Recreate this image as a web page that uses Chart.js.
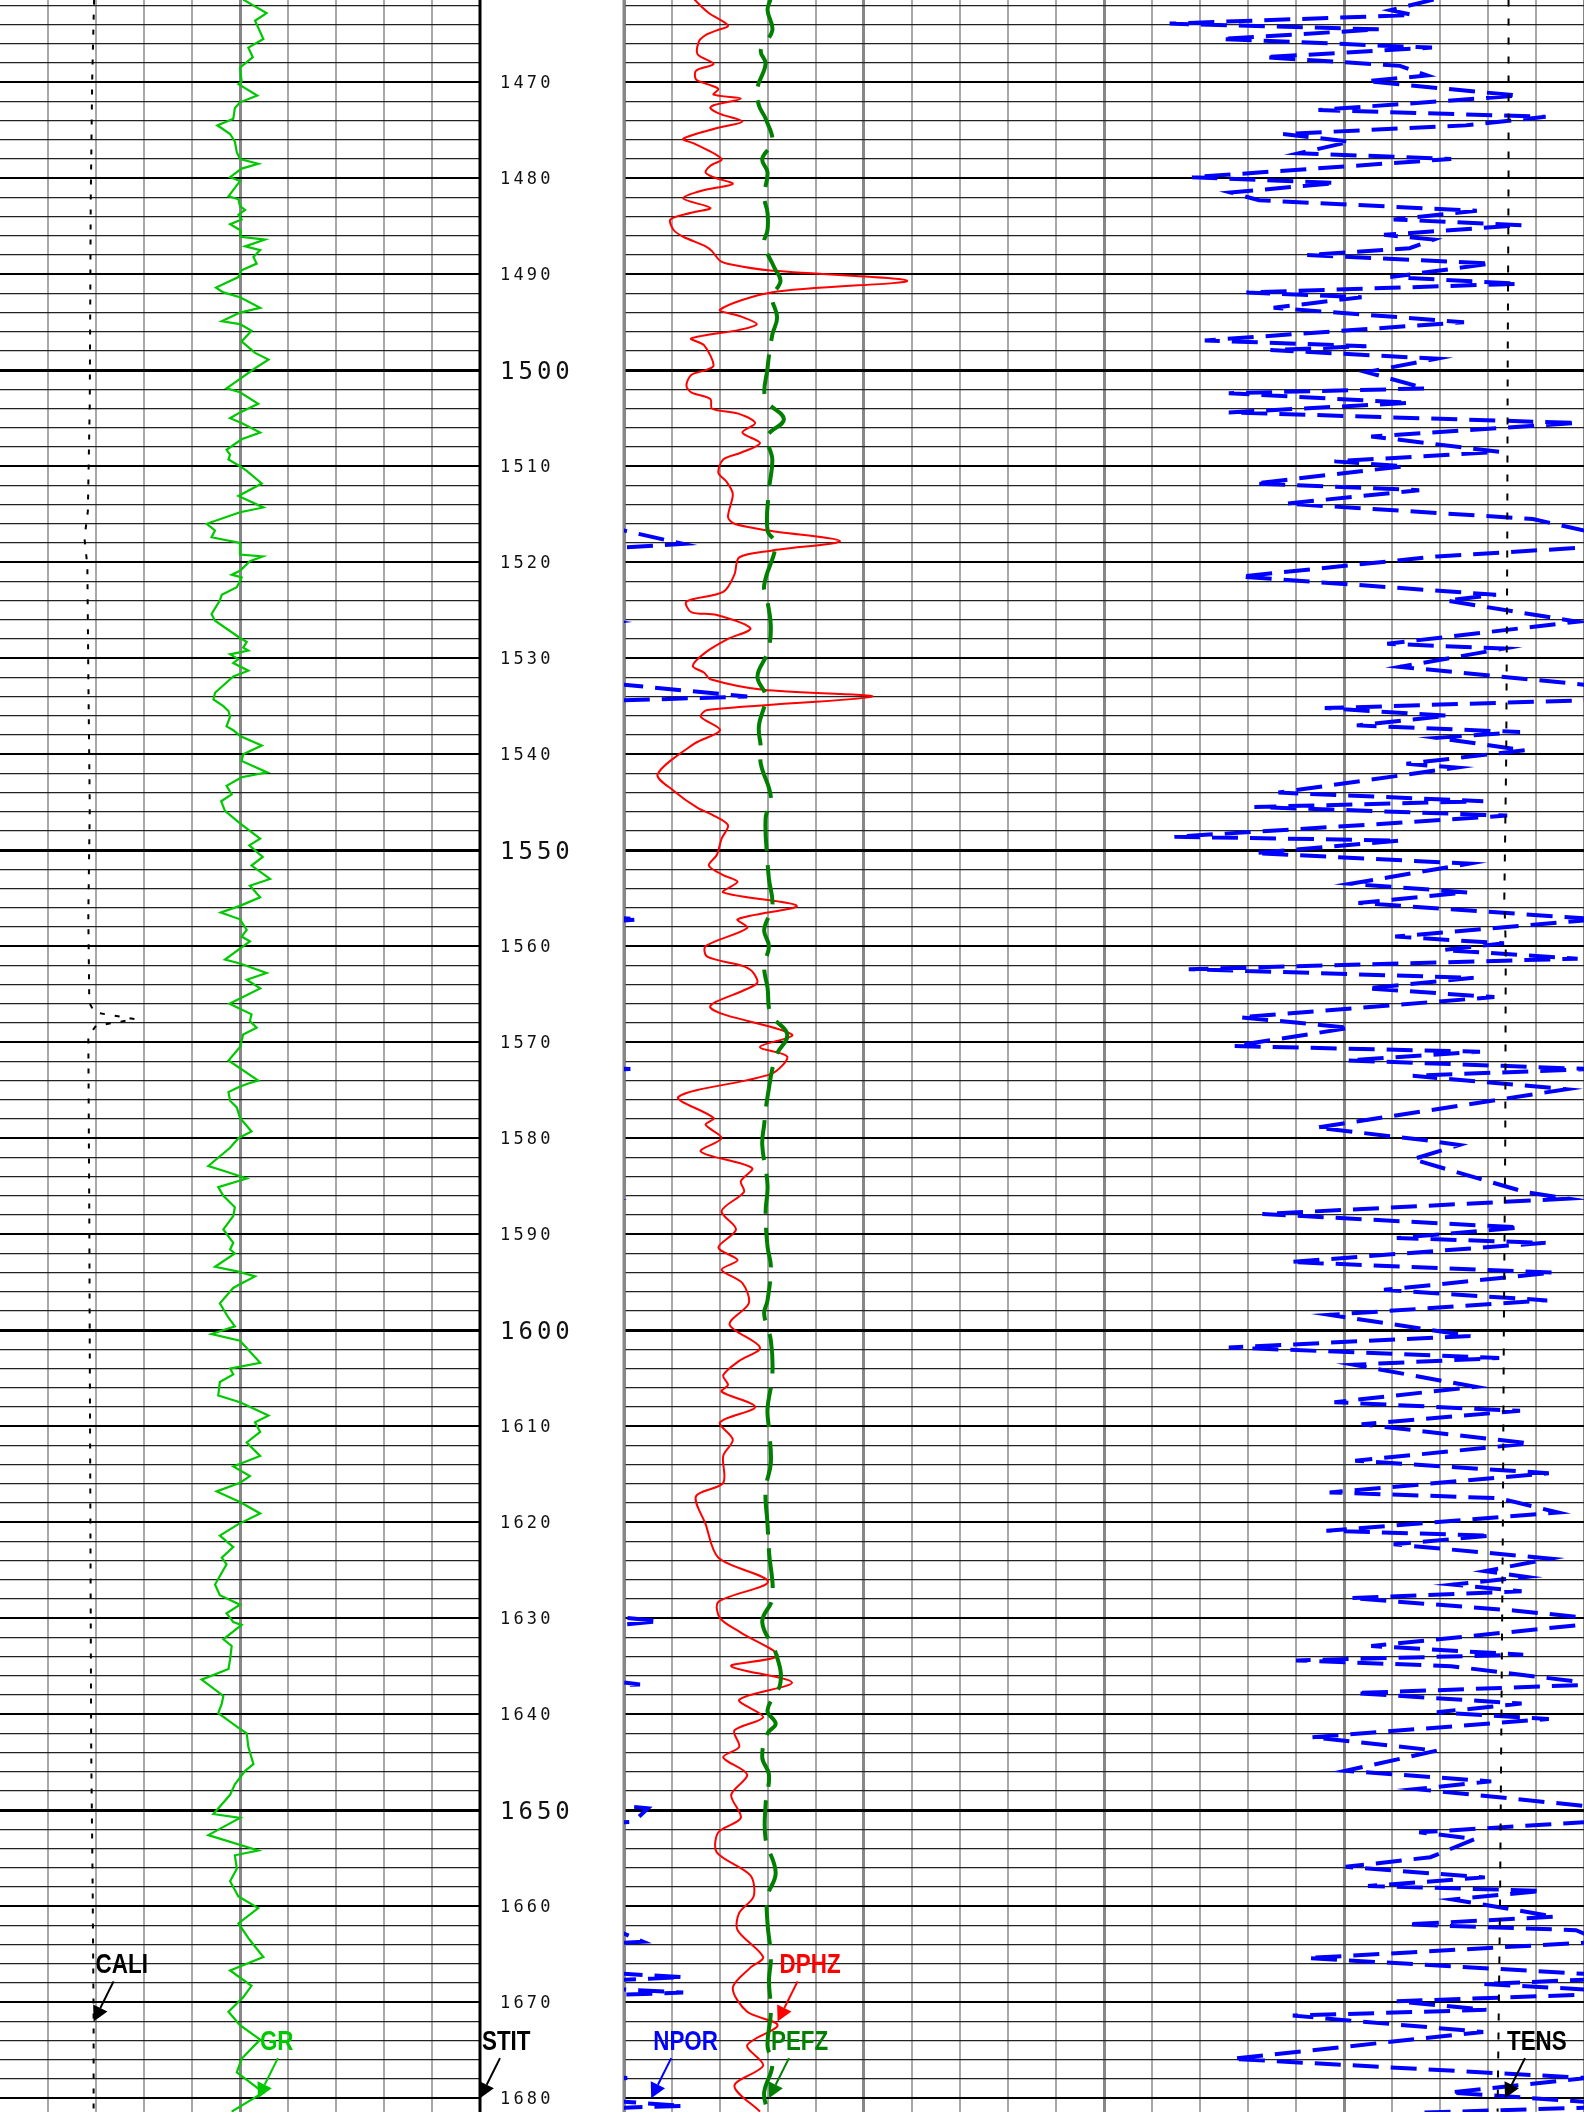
<!DOCTYPE html>
<html>
<head>
<meta charset="utf-8">
<title>Well log 1461 - 1681 m</title>
<script src="https://cdn.jsdelivr.net/npm/chart.js@4.4.1/dist/chart.umd.min.js"></script>
<style>
  html, body { margin: 0; padding: 0; background: #fff; }
  #wrap { width: 1584px; height: 2112px; }
</style>
</head>
<body>
<div id="wrap"><canvas id="log" width="1584" height="2112"></canvas></div>
<script>
// depth window shown (m)
const depthTop = 1461.44;
const depthBottom = 1681.44;
const depthLabels = [1470, 1480, 1490, 1500, 1510, 1520, 1530, 1540, 1550, 1560, 1570,
  1580, 1590, 1600, 1610, 1620, 1630, 1640, 1650, 1660, 1670, 1680];

// GR (API), left track 0 - 150
const grDepth = [
  1461.4,1462.8,1463.6,1465.5,1466.4,1467.4,1468.5,1469.9,1470.2,1471.4,
  1472.1,1472.7,1473.8,1474.5,1474.8,1475.4,1476.2,1477.3,1478.0,1478.5,
  1479.0,1479.9,1480.3,1481.9,1482.2,1482.9,1483.3,1483.8,1484.3,1484.8,
  1485.4,1486.1,1486.4,1487.1,1487.5,1488.2,1488.9,1489.6,1490.3,1491.4,
  1491.9,1492.4,1493.5,1494.0,1494.9,1495.2,1495.9,1497.0,1498.2,1498.9,
  1499.8,1500.9,1501.9,1502.3,1503.5,1504.4,1505.0,1505.5,1506.5,1507.2,
  1508.3,1508.8,1509.3,1510.0,1510.5,1511.8,1513.1,1514.3,1514.8,1516.0,
  1516.7,1517.4,1518.0,1519.2,1519.4,1519.9,1520.9,1521.3,1521.6,1522.6,
  1523.4,1524.0,1525.4,1526.1,1527.9,1528.3,1528.9,1529.2,1529.6,1530.1,
  1530.5,1531.3,1531.9,1533.6,1534.3,1535.0,1535.5,1536.1,1537.1,1537.5,
  1538.1,1539.1,1540.0,1540.7,1541.9,1542.4,1543.3,1544.2,1544.9,1545.9,
  1547.2,1548.8,1549.5,1550.7,1551.6,1553.0,1553.7,1554.9,1555.8,1556.5,
  1557.2,1558.3,1559.0,1559.5,1561.4,1561.8,1562.8,1563.5,1564.4,1566.0,
  1567.1,1567.8,1568.5,1569.2,1570.5,1571.9,1574.0,1574.3,1574.7,1575.2,
  1576.1,1576.8,1577.9,1579.3,1580.0,1581.0,1582.9,1583.5,1584.2,1585.1,
  1586.0,1586.7,1587.2,1588.1,1589.5,1590.9,1591.6,1592.0,1593.4,1593.9,
  1594.4,1595.3,1595.6,1597.2,1598.7,1599.6,1600.4,1601.1,1603.4,1604.0,
  1604.6,1605.4,1606.8,1607.5,1608.9,1609.6,1610.6,1611.7,1613.1,1614.2,
  1615.2,1615.9,1616.8,1617.9,1619.1,1620.2,1621.4,1622.6,1623.7,1624.4,
  1626.5,1627.6,1628.6,1629.5,1630.4,1630.7,1632.2,1632.9,1634.3,1635.3,
  1636.4,1638.1,1638.9,1639.9,1641.3,1642.0,1643.4,1645.2,1645.9,1647.3,
  1648.4,1650.4,1650.8,1652.6,1654.2,1654.7,1656.1,1657.4,1659.0,1660.2,
  1661.8,1663.5,1665.3,1666.7,1668.3,1669.5,1671.0,1672.4,1673.9,1675.9,
  1677.3,1679.4,1681.4
];
const grApi = [
  76.0,83.3,79.7,82.3,77.6,79.0,75.0,75.5,74.5,80.4,
  75.0,73.4,72.9,67.9,69.3,71.9,73.4,74.0,75.0,80.7,
  75.5,71.9,75.0,71.4,74.5,75.0,76.6,74.5,75.5,71.9,
  75.0,75.2,82.8,76.6,81.3,79.2,80.2,75.5,74.5,67.5,
  69.8,75.0,81.3,75.0,69.3,75.0,78.6,75.5,79.7,83.9,
  79.7,75.0,70.8,75.0,80.7,75.0,71.9,75.5,81.3,75.5,
  70.8,71.9,71.4,75.0,77.1,81.8,74.5,82.3,75.0,64.6,
  67.2,66.1,75.0,75.0,82.1,78.1,75.0,72.4,75.5,74.0,
  69.3,68.7,66.1,67.2,75.0,77.1,76.0,77.6,71.9,74.5,
  72.9,77.6,72.9,67.2,66.7,69.8,71.4,71.9,70.8,72.9,
  75.0,81.8,76.0,75.5,83.5,75.5,70.8,72.4,69.1,70.3,
  75.0,81.3,77.9,82.1,78.6,84.4,78.1,81.3,75.0,69.0,
  75.0,77.1,75.5,78.1,70.3,75.0,83.3,77.1,81.3,71.7,
  78.6,78.1,80.2,76.0,75.0,71.4,80.7,77.6,74.5,71.4,
  71.9,74.0,75.0,78.6,74.5,71.9,65.1,70.8,77.1,68.2,
  69.8,71.9,73.4,72.9,69.8,72.9,71.9,73.4,67.2,74.5,
  79.7,74.5,72.9,68.7,71.4,73.4,66.1,75.0,81.3,71.9,
  72.9,68.7,68.2,75.0,83.9,79.7,81.3,77.1,81.3,72.9,
  78.1,75.0,67.7,75.0,81.3,74.5,68.7,72.9,69.3,70.8,
  67.2,68.7,75.0,70.8,72.9,75.5,69.8,72.4,71.9,71.4,
  63.0,69.8,69.3,68.2,74.0,77.1,77.6,79.2,76.6,73.4,
  71.9,66.7,75.0,65.1,80.7,73.4,74.0,71.9,74.5,80.7,
  74.5,78.0,82.3,71.9,78.6,76.0,71.4,75.0,81.3,75.5,
  74.0,82.3,72.4
];

// CALI (in), left track 6 - 16
const caliDepth = [1461.4, 1469.9, 1482.5, 1503.5, 1514.7, 1517.5, 1520.4, 1531.6, 1545.6, 1556.8,
  1565.9, 1566.9, 1567.6, 1568.3, 1569.4, 1587.7, 1615.7, 1643.8, 1657.8, 1671.8, 1681.4];
const caliInch = [7.96, 7.92, 7.89, 7.87, 7.83, 7.76, 7.82, 7.84, 7.87, 7.84,
  7.86, 7.97, 8.81, 8.00, 7.84, 7.86, 7.88, 7.90, 7.93, 7.95, 7.95];

// DPHZ (v/v), right track 0.45 - -0.15
const dphzDepth = [
  1461.4,1462.8,1464.1,1464.6,1465.0,1465.7,1467.1,1468.1,1468.8,1469.7,
  1470.2,1470.7,1471.3,1471.7,1472.4,1472.7,1473.3,1474.1,1474.7,1475.9,
  1476.4,1478.0,1478.7,1479.4,1479.9,1480.6,1481.2,1482.1,1483.1,1483.6,
  1484.3,1485.4,1486.1,1487.1,1487.6,1488.6,1489.0,1489.6,1490.7,1491.9,
  1493.7,1494.4,1495.2,1495.8,1496.7,1497.4,1499.5,1500.0,1500.5,1501.6,
  1502.3,1503.0,1504.0,1504.5,1505.5,1506.5,1507.6,1508.6,1509.3,1510.7,
  1511.6,1512.9,1515.3,1516.0,1516.7,1517.8,1518.8,1519.5,1521.3,1523.1,
  1524.1,1525.2,1525.5,1526.9,1528.0,1529.4,1530.8,1531.5,1532.2,1533.3,
  1534.0,1535.4,1536.1,1537.5,1538.9,1542.1,1543.8,1545.6,1546.3,1547.4,
  1548.8,1550.5,1551.6,1552.6,1553.3,1554.4,1555.8,1557.2,1558.1,1560.0,
  1561.1,1562.1,1562.8,1563.9,1566.4,1569.2,1570.5,1571.5,1573.3,1575.7,
  1577.9,1578.6,1580.0,1581.4,1583.1,1584.5,1585.6,1587.6,1589.5,1591.4,
  1592.7,1593.7,1595.1,1597.2,1599.4,1601.8,1603.2,1604.7,1605.7,1606.4,
  1608.0,1609.6,1611.4,1613.1,1615.9,1617.3,1620.2,1623.7,1626.2,1628.3,
  1630.0,1631.5,1633.9,1635.0,1636.7,1638.5,1640.3,1641.7,1643.4,1644.5,
  1646.3,1648.4,1650.8,1652.3,1654.4,1656.8,1659.0,1660.7,1662.5,1665.3,
  1666.4,1668.5,1671.0,1672.4,1674.5,1676.6,1678.7,1681.4
];
const dphzVal = [
  0.406,0.397,0.385,0.392,0.398,0.403,0.404,0.394,0.405,0.405,
  0.398,0.391,0.394,0.377,0.394,0.396,0.390,0.376,0.390,0.413,
  0.406,0.389,0.396,0.399,0.394,0.382,0.399,0.413,0.396,0.408,
  0.421,0.419,0.413,0.399,0.395,0.390,0.383,0.360,0.273,0.358,
  0.390,0.377,0.367,0.378,0.408,0.400,0.394,0.399,0.408,0.411,
  0.408,0.396,0.395,0.379,0.368,0.376,0.365,0.377,0.388,0.391,
  0.386,0.382,0.385,0.381,0.360,0.315,0.358,0.378,0.381,0.388,
  0.411,0.408,0.392,0.371,0.385,0.399,0.407,0.400,0.396,0.363,
  0.295,0.398,0.402,0.390,0.406,0.429,0.419,0.404,0.395,0.385,
  0.389,0.392,0.397,0.388,0.379,0.388,0.342,0.379,0.373,0.399,
  0.398,0.375,0.369,0.367,0.396,0.345,0.365,0.348,0.358,0.416,
  0.394,0.399,0.389,0.402,0.370,0.377,0.375,0.389,0.380,0.391,
  0.379,0.389,0.376,0.372,0.384,0.365,0.378,0.388,0.385,0.389,
  0.368,0.390,0.382,0.388,0.388,0.405,0.399,0.391,0.360,0.391,
  0.390,0.377,0.354,0.383,0.345,0.378,0.363,0.381,0.378,0.388,
  0.373,0.383,0.377,0.391,0.392,0.371,0.369,0.378,0.379,0.363,
  0.371,0.382,0.373,0.354,0.373,0.363,0.381,0.365
];

// NPOR (v/v), right track 0.45 - -0.15, wraps past the right edge
const nporDepth = [
  1461.4,1462.5,1463.0,1463.9,1464.5,1465.5,1466.4,1467.4,1468.3,1469.3,
  1469.9,1471.4,1472.9,1473.6,1474.5,1475.4,1476.2,1477.4,1478.0,1479.9,
  1480.5,1481.5,1482.3,1483.4,1484.3,1484.9,1485.9,1486.4,1487.3,1488.0,
  1488.9,1490.3,1491.0,1491.9,1492.4,1493.5,1495.0,1496.9,1497.5,1497.9,
  1498.8,1500.2,1501.9,1502.4,1503.4,1504.4,1505.5,1506.9,1508.5,1509.5,
  1510.0,1511.8,1512.5,1513.9,1515.5,1518.1,1519.4,1521.5,1523.4,1524.0,
  1526.2,1528.5,1529.0,1530.9,1534.0,1535.2,1536.0,1537.0,1537.7,1538.3,
  1539.6,1541.0,1541.4,1544.0,1544.9,1545.5,1546.4,1547.3,1548.6,1549.0,
  1550.3,1551.4,1553.5,1554.4,1555.5,1557.2,1559.0,1559.7,1560.4,1561.3,
  1562.4,1563.3,1564.4,1565.3,1567.4,1568.5,1570.4,1571.0,1571.9,1572.8,
  1573.5,1574.9,1578.9,1580.2,1580.7,1582.2,1585.6,1586.3,1587.9,1589.3,
  1590.4,1590.9,1592.9,1594.0,1595.8,1596.9,1598.4,1600.6,1601.8,1602.9,
  1603.6,1605.9,1607.5,1608.4,1609.8,1611.8,1613.6,1614.9,1616.9,1617.5,
  1619.0,1620.9,1621.4,1622.3,1623.8,1625.1,1625.7,1626.5,1627.2,1627.9,
  1629.2,1630.3,1632.9,1633.8,1634.4,1635.0,1636.9,1637.8,1638.9,1639.8,
  1640.5,1642.4,1643.8,1645.9,1647.0,1647.8,1649.8,1651.2,1652.3,1653.0,
  1654.9,1655.9,1657.0,1657.9,1658.4,1659.3,1661.1,1661.9,1662.5,1663.7,
  1665.4,1667.4,1668.1,1669.0,1669.9,1670.8,1671.4,1673.1,1675.9,1677.9,
  1679.4,1680.8,1681.5
];
const nporVal = [
  -0.056,-0.029,-0.043,0.109,-0.022,0.077,-0.055,0.050,-0.035,-0.052,
  -0.014,-0.109,0.016,-0.126,-0.076,0.038,-0.004,0.028,-0.067,0.095,
  0.005,0.071,0.053,-0.083,-0.031,-0.111,-0.025,-0.056,-0.041,0.023,
  -0.092,-0.029,-0.109,0.061,-0.011,0.044,-0.075,0.087,-0.014,0.046,
  -0.058,-0.014,-0.051,0.072,-0.041,0.072,-0.146,-0.017,-0.097,0.006,
  -0.038,0.056,-0.047,0.036,-0.118,-0.187,-0.058,0.065,-0.095,-0.064,
  -0.146,-0.027,-0.100,-0.035,-0.227,0.012,-0.065,-0.008,-0.110,-0.058,
  -0.113,-0.039,-0.070,0.041,-0.087,0.056,-0.102,-0.020,0.106,-0.035,
  0.056,-0.078,-0.004,-0.077,-0.009,-0.159,-0.032,-0.100,-0.062,-0.146,
  0.097,-0.081,-0.014,-0.094,0.065,-0.004,0.069,-0.085,-0.002,-0.154,
  -0.043,-0.139,0.017,-0.050,-0.072,-0.043,-0.113,-0.140,0.051,-0.110,
  -0.033,-0.126,0.034,-0.131,-0.025,-0.127,0.009,-0.079,0.072,-0.097,
  -0.006,-0.082,0.006,-0.110,-0.011,-0.116,-0.007,-0.128,0.009,-0.097,
  -0.134,0.011,-0.092,-0.031,-0.129,-0.088,-0.114,-0.068,-0.111,-0.004,
  -0.106,-0.172,-0.017,-0.112,0.030,-0.067,-0.160,-0.007,-0.111,-0.058,
  -0.128,0.020,-0.058,-0.001,-0.092,-0.045,-0.165,-0.156,-0.047,-0.082,
  -0.054,-0.001,-0.088,-0.015,-0.124,-0.068,-0.132,-0.039,-0.145,-0.162,
  0.023,-0.187,-0.087,-0.187,-0.033,-0.089,0.032,-0.087,0.070,-0.152,
  -0.066,-0.187,-0.050
];

// PEFZ (b/e), right track 0 - 20
const pefzDepth = [
  1461.4,1462.5,1464.6,1466.7,1468.1,1470.6,1472.4,1473.8,1476.2,1478.0,
  1479.4,1481.9,1483.6,1485.4,1486.8,1489.3,1490.7,1492.4,1494.5,1496.3,
  1499.8,1503.0,1505.1,1506.9,1509.3,1512.5,1516.7,1518.1,1522.4,1524.1,
  1526.9,1529.4,1531.9,1534.0,1537.1,1539.3,1541.0,1544.5,1546.7,1551.2,
  1553.0,1555.8,1558.3,1560.0,1562.1,1564.3,1567.1,1569.2,1571.5,1575.7,
  1578.6,1580.7,1584.9,1587.7,1591.3,1593.4,1596.9,1598.3,1601.1,1604.7,
  1608.2,1610.3,1613.8,1616.6,1620.2,1623.0,1627.9,1630.4,1633.6,1636.7,
  1639.6,1641.0,1642.0,1644.5,1646.3,1649.4,1653.0,1656.5,1659.0,1661.8,
  1665.3,1667.8,1671.0,1674.5,1676.6,1679.4,1681.4
];
const pefzVal = [
  3.05,2.99,3.09,2.85,2.95,2.78,2.81,2.95,3.09,2.88,
  2.99,2.92,2.99,2.99,2.92,3.13,3.26,3.09,3.19,3.09,
  2.99,2.95,3.33,2.99,3.09,3.02,2.99,3.16,2.92,2.99,
  3.06,2.99,2.78,2.95,2.81,2.85,2.85,3.06,2.95,2.99,
  3.02,3.09,2.92,3.02,2.92,2.99,3.06,3.40,3.16,2.99,
  2.92,2.88,2.99,2.95,2.99,3.06,2.99,2.92,3.06,3.09,
  2.99,3.02,3.06,2.95,2.99,3.02,3.09,2.88,3.16,3.26,
  2.99,3.16,2.99,2.88,3.02,2.95,2.95,3.16,2.99,2.99,
  3.06,3.02,3.06,2.99,3.09,2.92,2.99
];

// TENS (lb), right track 0 - 10000
const tensDepth = [1461.4, 1480, 1500, 1520, 1540, 1555, 1560, 1580, 1600, 1620, 1640, 1660, 1681.4];
const tensLb = [9214, 9214, 9205, 9200, 9190, 9170, 9185, 9180, 9165, 9155, 9140, 9125, 9100];

const W = 1584;
const leftTrack = [0, 480];
const rightTrack = [624, 1584];

// a hidden x axis that puts [from, to] onto the track pixels
function trackAxis(from, to, track) {
  const k = (to - from) / (track[1] - track[0]);
  const a = from - track[0] * k;
  const b = from + (W - track[0]) * k;
  return { type: "linear", display: false, min: Math.min(a, b), max: Math.max(a, b), reverse: a > b };
}

function curve(label, depths, values, axis, style) {
  return Object.assign({
    label: label,
    xAxisID: axis,
    yAxisID: "y",
    showLine: true,
    pointRadius: 0,
    fill: false,
    tension: 0,
    borderCapStyle: "butt",
    data: depths.map((d, i) => ({ x: values[i], y: d })),
  }, style);
}

// curve names with arrows, anchored on the curve scale at a depth
const curveNames = [
  { name: "CALI", color: "#000000", axis: "xCali", value: 7.95, depth: 1672 },
  { name: "DPHZ", color: "#ff0000", axis: "xDphz", value: 0.354, depth: 1672 },
  { name: "GR", color: "#00c800", axis: "xGr", value: 80.6, depth: 1680 },
  { name: "STIT", color: "#000000", axis: "xGr", value: 150, depth: 1680 },
  { name: "NPOR", color: "#0000ff", axis: "xNpor", value: 0.433, depth: 1680 },
  { name: "PEFZ", color: "#007f00", axis: "xPefz", value: 3.02, depth: 1680 },
  { name: "TENS", color: "#000000", axis: "xTens", value: 9177, depth: 1680 },
];

const thickDivs = [5, 13, 18, 23, 28, 33];

const depthTrackPlugin = {
  id: "depthTrack",
  beforeDatasetsDraw(chart) {
    const ctx = chart.ctx;
    const g = chart.scales.xg;
    const y = chart.scales.y;
    const x0 = g.getPixelForValue(10);
    const x1 = g.getPixelForValue(13);
    ctx.save();
    ctx.fillStyle = "#ffffff";
    ctx.fillRect(x0, 0, x1 - x0, chart.height);
    ctx.fillStyle = "#000000";
    ctx.fillRect(x0 - 1.5, 0, 3, chart.height);
    ctx.fillStyle = "#878787";
    ctx.fillRect(x1 - 1.5, 0, 3, chart.height);

    ctx.fillStyle = "#111111";
    ctx.textBaseline = "alphabetic";
    depthLabels.forEach((d) => {
      const big = d % 50 === 0;
      const size = big ? 24 : 17;
      const gap = big ? 4 : 3.2;
      ctx.font = size + 'px "DejaVu Sans Mono", monospace';
      let tx = x0 + 20;
      const ty = y.getPixelForValue(d) + size * 0.365;
      for (const ch of String(d)) {
        ctx.fillText(ch, tx, ty);
        tx += ctx.measureText(ch).width + gap;
      }
    });
    ctx.restore();
  },
  afterDatasetsDraw(chart) {
    const ctx = chart.ctx;
    const y = chart.scales.y;
    ctx.save();
    curveNames.forEach((c) => {
      const tx = chart.scales[c.axis].getPixelForValue(c.value);
      const ty = y.getPixelForValue(c.depth);
      ctx.fillStyle = c.color;
      ctx.strokeStyle = c.color;

      ctx.save();
      ctx.translate(tx + 2, ty - 48);
      ctx.scale(0.8, 1);
      ctx.font = 'bold 28px "Liberation Sans", Arial, sans-serif';
      ctx.textBaseline = "alphabetic";
      ctx.fillText(c.name, 0, 0);
      ctx.restore();

      const sx = tx + 20, sy = ty - 40;
      const ang = Math.atan2(ty - sy, tx - sx);
      const bx = tx - 15 * Math.cos(ang);
      const by = ty - 15 * Math.sin(ang);
      ctx.lineWidth = 2;
      ctx.beginPath();
      ctx.moveTo(sx, sy);
      ctx.lineTo(bx, by);
      ctx.stroke();
      ctx.beginPath();
      ctx.moveTo(tx, ty);
      ctx.lineTo(bx + 8 * Math.sin(ang), by - 8 * Math.cos(ang));
      ctx.lineTo(bx - 8 * Math.sin(ang), by + 8 * Math.cos(ang));
      ctx.closePath();
      ctx.fill();
    });
    ctx.restore();
  },
};

// horizontal grid every 2 m
const gridDepths = [];
for (let d = Math.ceil(depthTop / 2) * 2; d <= depthBottom; d += 2) gridDepths.push(d);

const datasets = [
  curve("CALI", caliDepth, caliInch, "xCali", { borderColor: "#000000", borderWidth: 2, borderDash: [5, 10] }),
  curve("GR", grDepth, grApi, "xGr", { borderColor: "#00c800", borderWidth: 2.2 }),
  curve("TENS", tensDepth, tensLb, "xTens", { borderColor: "#000000", borderWidth: 2, borderDash: [7, 12] }),
  curve("NPOR", nporDepth, nporVal, "xNpor", { borderColor: "#0000ff", borderWidth: 4, borderDash: [26, 12] }),
  curve("NPOR wrap", nporDepth, nporVal, "xNporWrap", {
    borderColor: "#0000ff", borderWidth: 4, borderDash: [26, 12],
    clip: { left: -rightTrack[0], top: 0, right: 0, bottom: 0 },
  }),
  curve("PEFZ", pefzDepth, pefzVal, "xPefz", { borderColor: "#007f00", borderWidth: 4, borderDash: [40, 14], tension: 0.4 }),
  curve("DPHZ", dphzDepth, dphzVal, "xDphz", { borderColor: "#ff0000", borderWidth: 2, tension: 0.3 }),
];

new Chart(document.getElementById("log"), {
  type: "scatter",
  data: { datasets: datasets },
  plugins: [depthTrackPlugin],
  options: {
    responsive: false,
    devicePixelRatio: 1,
    animation: false,
    events: [],
    layout: { padding: 0 },
    plugins: { legend: { display: false }, tooltip: { enabled: false } },
    scales: {
      // vertical grid first so the depth lines are drawn over it
      xg: {
        type: "linear",
        axis: "x",
        position: "top",
        min: 0,
        max: W / 48,
        border: { display: false },
        ticks: { display: false, stepSize: 1, maxTicksLimit: 1000, autoSkip: false },
        grid: {
          drawTicks: false,
          color: (c) => {
            const i = Math.round(c.tick.value);
            if (i === 0) return "rgba(0,0,0,0)";
            if (i === 10) return "#000000";
            if (thickDivs.includes(i)) return "#878787";
            return "#a8a8a8";
          },
          lineWidth: (c) => {
            const i = Math.round(c.tick.value);
            if (i === 10 || thickDivs.includes(i)) return 3;
            return 2;
          },
        },
      },
      y: {
        type: "linear",
        position: "left",
        reverse: true,
        min: depthTop,
        max: depthBottom,
        afterBuildTicks: (scale) => {
          scale.ticks = gridDepths.map((d) => ({ value: d }));
        },
        border: { display: false },
        ticks: { display: false, autoSkip: false },
        grid: {
          drawTicks: false,
          color: (c) => (c.tick.value % 10 === 0 ? "#000000" : "#222222"),
          lineWidth: (c) => {
            const v = c.tick.value;
            if (v % 50 === 0) return 3;
            if (v % 10 === 0) return 2;
            return 1.2;
          },
        },
      },
      xGr: trackAxis(0, 150, leftTrack),
      xCali: trackAxis(6, 16, leftTrack),
      xDphz: trackAxis(0.45, -0.15, rightTrack),
      xNpor: trackAxis(0.45, -0.15, rightTrack),
      xNporWrap: trackAxis(-0.15, -0.75, rightTrack),
      xPefz: trackAxis(0, 20, rightTrack),
      xTens: trackAxis(0, 10000, rightTrack),
    },
  },
});
</script>
</body>
</html>
